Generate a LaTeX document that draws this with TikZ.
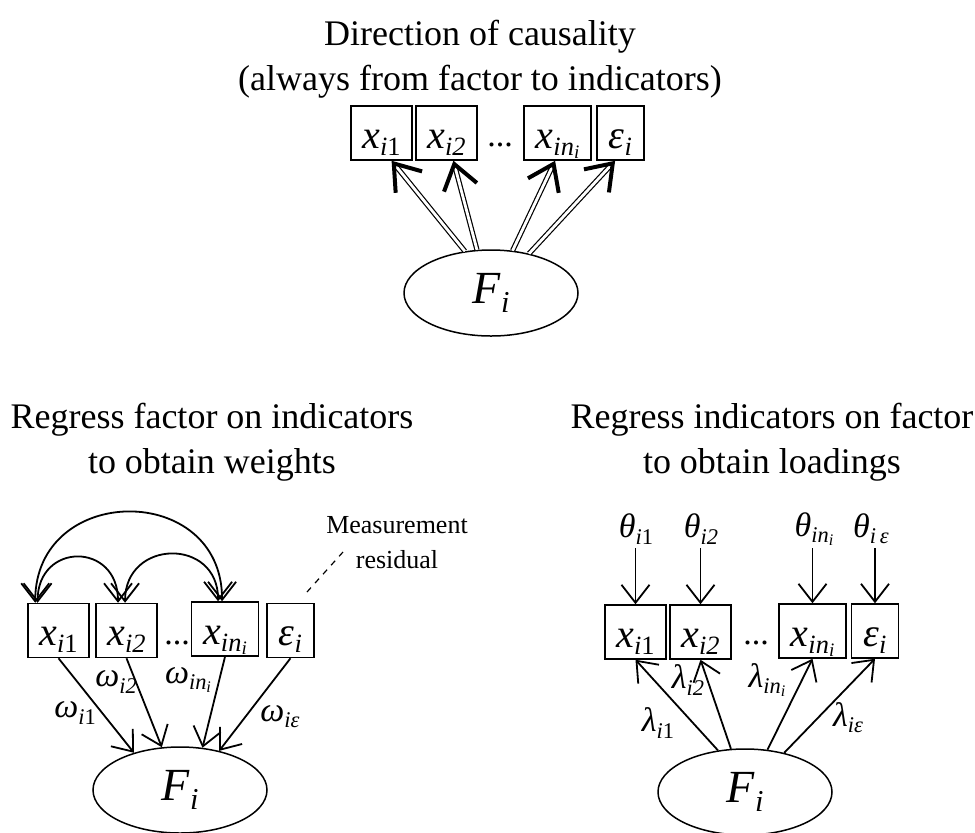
\documentclass[tikz,border=0pt]{standalone}
\usepackage{fontspec}
\usepackage{graphicx}
\setmainfont{Liberation Serif}
\usetikzlibrary{arrows.meta,shapes.geometric}

% italic symbol with a lowered, smaller subscript
\newcommand{\vsub}[2]{\textit{#1}\raisebox{-0.4ex}{\scalebox{0.66}{#2}}}
\newcommand{\nsub}{\textit{in}\raisebox{-0.3ex}{\scalebox{0.72}{\textit{i}}}}

\begin{document}
\begin{tikzpicture}[x=0.5pt, y=-0.5pt,
	ind/.style = {draw, line width=0.75pt, minimum width=30.5pt, minimum height=27pt, inner sep=0pt, text height=15pt, text depth=0pt, font=\fontsize{20}{24}\selectfont},
	indw/.style = {ind, minimum width=33.5pt},
	inde/.style = {ind, minimum width=23.5pt},
	fac/.style = {draw, ellipse, line width=0.75pt, minimum width=87pt, minimum height=43pt, inner sep=0pt, font=\fontsize{23}{26}\selectfont},
	path/.style = {line width=0.9pt, -{Straight Barb[length=9pt,width=14pt]}},
	corr/.style = {line width=0.9pt, {Straight Barb[length=9pt,width=14pt]}-{Straight Barb[length=9pt,width=14pt]}},
	causal/.style = {preaction={draw=black, -, double, double distance=1.4pt, line width=0.6pt, shorten >=4pt},
		draw=white, line width=0.5pt, -{Straight Barb[length=12pt,width=17pt,line width=2pt,color=black]}},
	lab/.style = {inner sep=1pt, font=\fontsize{17}{20}\selectfont},
	ttl/.style = {align=center, font=\fontsize{18}{22.5}\selectfont}]

	\useasboundingbox (0,0) rectangle (975,832);

	% direction of causality
	\node[ttl] (t0) at (480,59) {Direction of causality\\(always from factor to indicators)};
	\node[ind] (t1) at (381.5,133) {\vsub{x}{\textit{i}1}};
	\node[ind] (t2) at (446.5,133) {\vsub{x}{\textit{i2}}};
	\node[lab] (td) at (500,145) {...};
	\node[indw] (t3) at (557.5,133) {\vsub{x}{\nsub}};
	\node[inde] (t4) at (620.5,133) {\vsub{ε}{\textit{i}}};
	\node[fac] (tF) at (491,293) {\vsub{F}{\textit{i}}};

	\draw[causal] (tF.122) -- (t1.-70);
	\draw[causal] (tF.108) -- (t2.-76);
	\draw[causal] (tF.63) -- (t3.-95);
	\draw[causal] (tF.46) -- (t4.-101);

	% weights
	\node[ttl] (l0) at (212,442) {Regress factor on indicators\\to obtain weights};
	\node[ind] (l1) at (58.5,630.5) {\vsub{x}{\textit{i}1}};
	\node[ind] (l2) at (126.5,630.5) {\vsub{x}{\textit{i2}}};
	\node[lab] (ld) at (177,643) {...};
	\node[indw] (l3) at (225,629) {\vsub{x}{\nsub}};
	\node[inde] (l4) at (290.5,630.5) {\vsub{ε}{\textit{i}}};
	\node[fac] (lF) at (180,790) {\vsub{F}{\textit{i}}};

	\draw[path] (l1.south) -- (lF.141);
	\draw[path] (l2.south) -- (lF.113);
	\draw[path] (l3.south) -- (lF.62);
	\draw[path] (l4.south) -- (lF.45);

	\node[lab] (w1) at (75,713) {\vsub{ω}{\textit{i}1}};
	\node[lab] (w2) at (116,682) {\vsub{ω}{\textit{i2}}};
	\node[lab] (w3) at (188,680) {\vsub{ω}{\nsub}};
	\node[lab] (w4) at (280,717) {\vsub{ω}{\textit{iε}}};

	\draw[corr] (l1.130) .. controls +(0,-120) and +(0,-120) .. (l3.96);
	\draw[corr] (l1.127) .. controls +(0,-61) and +(0,-61) .. (l2.107);
	\draw[corr] (l2.93) .. controls +(0,-64) and +(0,-64) .. (l3.104);

	\node[align=center, font=\fontsize{13}{17.5}\selectfont] (mr) at (397,543) {Measurement\\residual};
	\coordinate (rs) at (307,592);
	\coordinate (re) at (343,552);
	\draw[dashed, line width=0.6pt] (rs) -- (re);

	% loadings
	\node[ttl] (r0) at (772,442) {Regress indicators on factor\\to obtain loadings};
	\node[ind] (r1) at (635.5,632) {\vsub{x}{\textit{i}1}};
	\node[ind] (r2) at (700.5,632) {\vsub{x}{\textit{i2}}};
	\node[lab] (rd) at (756,643) {...};
	\node[indw] (r3) at (812.5,631) {\vsub{x}{\nsub}};
	\node[inde] (r4) at (875,631) {\vsub{ε}{\textit{i}}};
	\node[fac] (rF) at (745,792) {\vsub{F}{\textit{i}}};

	\draw[path] (rF.123) -- (r1.south);
	\draw[path] (rF.108) -- (r2.south);
	\draw[path] (rF.62) -- (r3.south);
	\draw[path] (rF.45) -- (r4.south);

	\node[lab] (g1) at (658,723) {\vsub{λ}{\textit{i}1}};
	\node[lab] (g2) at (688,680) {\vsub{λ}{\textit{i2}}};
	\node[lab] (g3) at (767,680) {\vsub{λ}{\nsub}};
	\node[lab] (g4) at (848,718) {\vsub{λ}{\textit{iε}}};

	\node[lab] (h1) at (636,529) {\vsub{θ}{\textit{i}1}};
	\node[lab] (h2) at (701,529) {\vsub{θ}{\textit{i2}}};
	\node[lab] (h3) at (814,529) {\vsub{θ}{\nsub}};
	\node[lab] (h4) at (871,529) {\vsub{θ}{\textit{i\,ε}}};

	\draw[path] (r1.north |- 0,548) -- (r1.north);
	\draw[path] (r2.north |- 0,548) -- (r2.north);
	\draw[path] (r3.north |- 0,548) -- (r3.north);
	\draw[path] (r4.north |- 0,548) -- (r4.north);
\end{tikzpicture}
\end{document}
